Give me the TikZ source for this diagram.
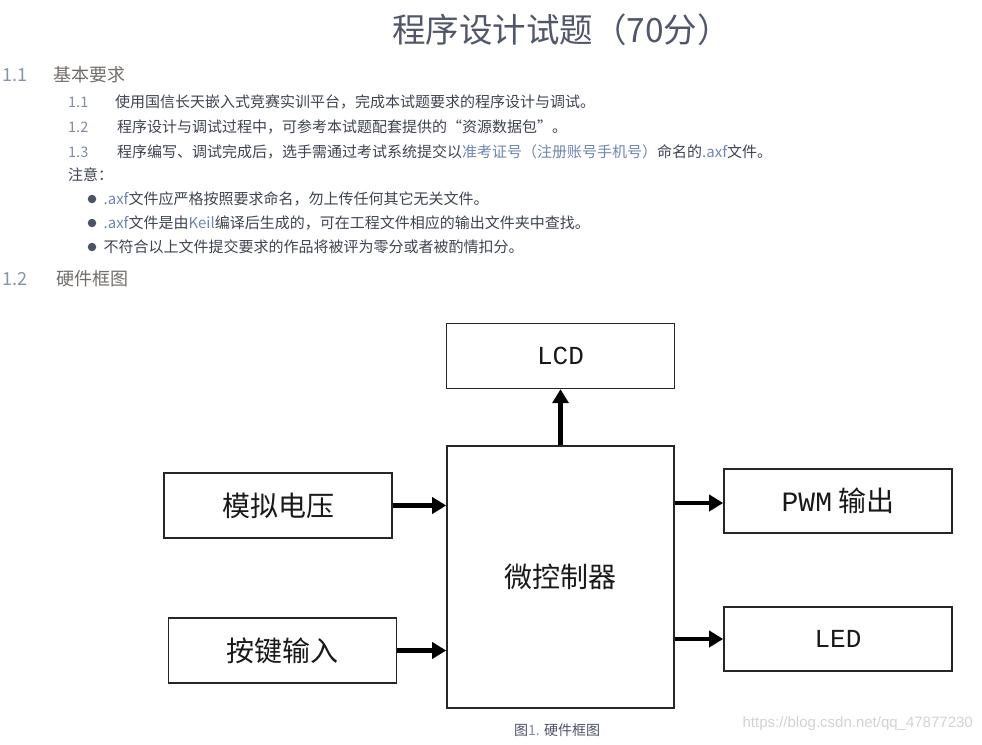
\documentclass[tikz,border=0pt]{standalone}
\usepackage{fontspec}
\setmainfont{Noto Sans CJK SC}
\newfontfamily\boxlatin{Liberation Mono}
\newfontfamily\urlfont{Liberation Sans}
\usepackage{xcolor}
\definecolor{title-grey}{HTML}{50576A}
\definecolor{head-num}{HTML}{8394AC}
\definecolor{head-grey}{HTML}{736D6A}
\definecolor{body-grey}{HTML}{3E4350}
\definecolor{num-grey}{HTML}{7F8BA0}
\definecolor{link-blue}{HTML}{6F85B2}
\definecolor{dot-grey}{HTML}{4C5266}
\definecolor{mark-grey}{HTML}{D2D2D2}
\usetikzlibrary{arrows.meta}
\usetikzlibrary{positioning}
\tikzset{box/.style = {draw=black!85, line width=1.6pt, minimum width=228pt, minimum height=65pt, align=center, text centered, text=black!90, font=\fontsize{28}{30}\selectfont}}
\tikzset{arr/.style = {line width=4.5pt, -{Triangle[length=14pt, width=16pt]}}}
\tikzset{txt/.style = {anchor=west, inner sep=0pt, text=body-grey, font=\fontsize{15}{16}\selectfont}}
\tikzset{num/.style = {anchor=west, inner sep=0pt, text=num-grey, font=\fontsize{14.5}{16}\selectfont}}
\tikzset{head/.style = {anchor=west, inner sep=0pt, text=head-grey, font=\fontsize{18}{20}\selectfont}}
\tikzset{dot/.style = {circle, fill=dot-grey, inner sep=0pt, minimum size=8.5pt}}

\begin{document}
\begin{tikzpicture}[x=1pt, y=-1pt]
\useasboundingbox (0,0) rectangle (982,744);

% page text
\node[anchor=west, inner sep=0pt, text=title-grey, font=\fontsize{33.5}{35}\selectfont] (title) at (392,30) {程序设计试题（70分）};
\node[head, text=head-num] (h1n) at (2,75) {1.1};
\node[head] (h1) at (53,75) {基本要求};
\node[num] (n1) at (68,102) {1.1};
\node[txt] (t1) at (115,102) {使用国信长天嵌入式竞赛实训平台，完成本试题要求的程序设计与调试。};
\node[num] (n2) at (68,127) {1.2};
\node[txt] (t2) at (117,127) {程序设计与调试过程中，可参考本试题配套提供的“资源数据包”。};
\node[num] (n3) at (68,152) {1.3};
\node[txt] (t3) at (117,152) {程序编写、调试完成后，选手需通过考试系统提交以\textcolor{link-blue}{准考证号（注册账号手机号）}命名的\textcolor{link-blue}{.axf}文件。};
\node[txt] (note) at (68,175) {注意：};
\node[dot] (d1) at (92,199) {};
\node[txt, right=7pt of d1] (b1) {\textcolor{link-blue}{.axf}文件应严格按照要求命名，勿上传任何其它无关文件。};
\node[dot] (d2) at (92,223) {};
\node[txt, right=7pt of d2] (b2) {\textcolor{link-blue}{.axf}文件是由\textcolor{link-blue}{Keil}编译后生成的，可在工程文件相应的输出文件夹中查找。};
\node[dot] (d3) at (92,247) {};
\node[txt, right=7pt of d3] (b3) {不符合以上文件提交要求的作品将被评为零分或者被酌情扣分。};
\node[head, text=head-num] (h2n) at (2,279) {1.2};
\node[head] (h2) at (56,279) {硬件框图};

% block diagram
\node[box, minimum width=227pt, minimum height=262pt] (mcu) at (560.5,577) {微控制器};
\node[box, above=56pt of mcu, font=\boxlatin\fontsize{26}{28}\selectfont] (lcd) {LCD};
\node[box] (ana) at (278,505.5) {模拟电压};
\node[box] (key) at (282.5,650.5) {按键输入};
\node[box, minimum height=64pt] (pwm) at (838,501) {{\boxlatin PWM} 输出};
\node[box, minimum height=64pt, font=\boxlatin\fontsize{26}{28}\selectfont] (led) at (838,639) {LED};

\draw[arr]  (ana.east) -- (ana.east -| mcu.west);
\draw[arr]  (key.east) -- (key.east -| mcu.west);
\draw[arr]  (mcu.north) -- (lcd.south);
\draw[arr]  (mcu.east |- 0,503) -- (pwm.west |- 0,503);
\draw[arr]  (mcu.east |- led.west) -- (led.west);

\node[anchor=west, inner sep=0pt, text=dot-grey, font=\fontsize{14}{16}\selectfont] (cap) at (514,730) {图\textcolor{num-grey}{1.} 硬件框图};
\node[anchor=east, inner sep=0pt, text=mark-grey, font=\urlfont\fontsize{15}{16}\selectfont] (mark) at (973,724) {https://blog.csdn.net/qq\_47877230};

\end{tikzpicture}
\end{document}
